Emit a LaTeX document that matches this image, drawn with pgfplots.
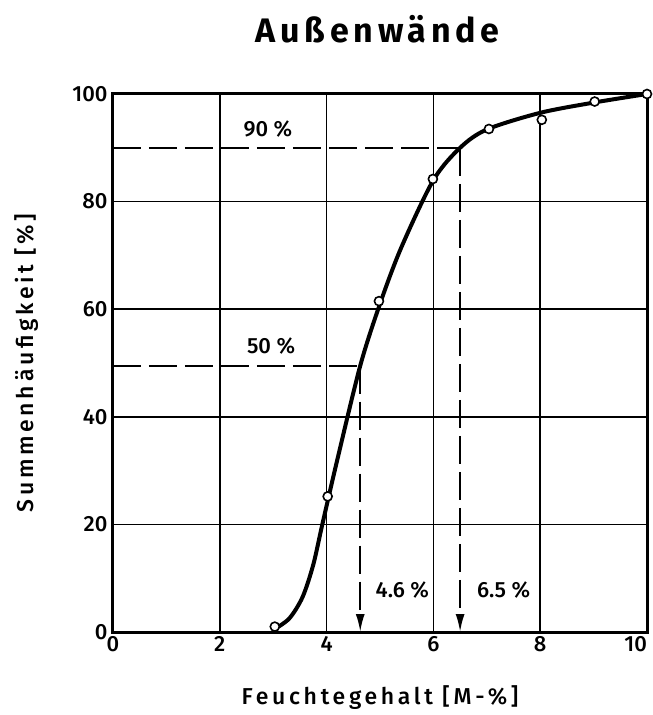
\documentclass[border=0pt]{standalone}
\usepackage{fontspec}
\setmainfont{Fira Sans}[UprightFont=* Medium, BoldFont=* Bold]
\usepackage{pgfplots}
\pgfplotsset{compat=1.18}
\usetikzlibrary{arrows.meta}
\begin{document}
\begin{tikzpicture}
\useasboundingbox (-113pt,-83pt) rectangle (540pt,632pt);
\begin{axis}[
  at={(0pt,0pt)}, anchor=south west,
  scale only axis, width=534pt, height=538pt,
  xmin=0, xmax=10, ymin=0, ymax=100,
  xtick={0,2,...,10}, ytick={0,20,...,100},
  xticklabels={0,2,4,6,8,\llap{10}},
  grid=major, major grid style={black, line width=1.5pt},
  axis line style={line width=3pt},
  tick style={draw=none},
  /pgf/number format/assume math mode=true,
  ticklabel style={font=\fontsize{22}{26}\selectfont},
  xticklabel style={yshift=-1pt},
  yticklabel style={xshift=-2pt},
  xlabel={Feuchtegehalt [M-\%]},
  ylabel={Summenhäufigkeit [\%]},
  every axis x label/.style={at={(axis description cs:0.5,-0.121)}, anchor=center,
    font=\fontsize{23}{27}\selectfont\addfontfeature{LetterSpace=16}},
  every axis y label/.style={at={(axis description cs:-0.161,0.5)}, anchor=center, rotate=90,
    font=\fontsize{23}{27}\selectfont\addfontfeature{LetterSpace=16}},
  title={\textbf{\addfontfeature{LetterSpace=14}Außenwände}},
  every axis title/.style={at={(axis description cs:0.5,1.121)}, anchor=center, font=\fontsize{34}{40}\selectfont},
  clip=false,
]
% dashed guide lines
\addplot[black, line width=2pt, dash pattern=on 28pt off 8pt] coordinates {(0,90) (6.5,90)};
\addplot[black, line width=2pt, dash pattern=on 28pt off 8pt] coordinates {(0,49.5) (4.63,49.5)};
\addplot[black, line width=2pt, dash pattern=on 28pt off 8pt, -{Latex[length=18pt,width=9pt]}] coordinates {(6.5,90) (6.5,0)};
\addplot[black, line width=2pt, dash pattern=on 28pt off 8pt, -{Latex[length=18pt,width=9pt]}] coordinates {(4.63,49.5) (4.63,0)};
% curve
\addplot[black, line width=4pt, smooth, tension=0.5] coordinates {
  (3.0,0.4) (3.3,2.5) (3.55,6.5) (3.75,12.5) (3.92,20) (4.2,32)
  (4.63,49.5) (5.0,61) (5.4,71.5) (6.0,84) (6.5,90) (7.0,93.4)
  (8.0,96.5) (9.0,98.4) (10.0,100)
};
% measured points
\addplot[only marks, mark=*, mark size=4.5pt, mark options={fill=white, draw=black, line width=1.6pt}] coordinates {
  (3.03,1.0) (4.02,25.2) (4.98,61.5) (5.99,84.2) (7.04,93.5) (8.03,95.2) (9.02,98.6) (10,100)
};
% labels
\node[font=\fontsize{22}{26}\selectfont] at (axis cs:2.9,93.5) {90 \%};
\node[font=\fontsize{22}{26}\selectfont] at (axis cs:2.96,53.2) {50 \%};
\node[font=\fontsize{22}{26}\selectfont, fill=white, anchor=west, inner sep=3pt] at (axis cs:4.86,7.8) {4.6 \%};
\node[font=\fontsize{22}{26}\selectfont, fill=white, anchor=west, inner sep=3pt] at (axis cs:6.76,7.8) {6.5 \%};
\end{axis}
\end{tikzpicture}
\end{document}
